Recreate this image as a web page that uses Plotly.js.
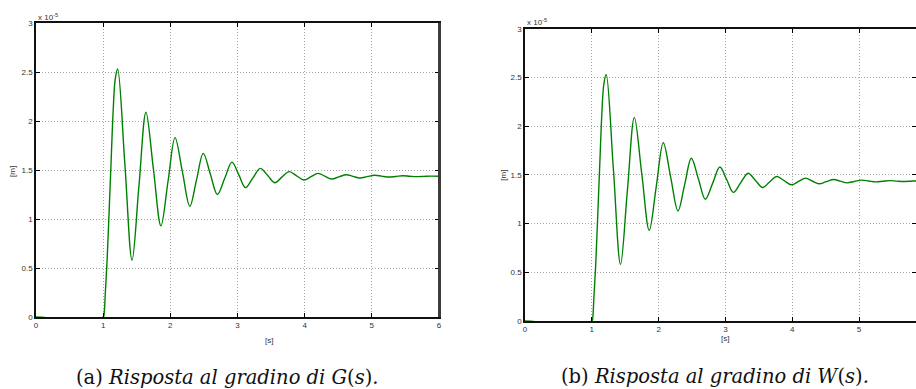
<!DOCTYPE html>
<html>
<head>
<meta charset="utf-8">
<script src="https://cdn.plot.ly/plotly-3.0.1.min.js"></script>
<style>
html,body{margin:0;padding:0;background:#fff;}
#chart{width:916px;height:389px;}
</style>
</head>
<body>
<div id="chart"></div>
<script>
// Step response of G(s) (values in units of 1e-5 m)
const timeG = [0, 1.0, 1.015, 1.03, 1.06, 1.09, 1.12, 1.15, 1.18, 1.216,
  1.323, 1.43, 1.533, 1.637, 1.748, 1.86, 1.965, 2.07, 2.18, 2.29, 2.39, 2.49,
  2.595, 2.70, 2.81, 2.917, 3.02, 3.12, 3.23, 3.34, 3.45, 3.557, 3.66, 3.77,
  3.88, 3.99, 4.095, 4.20, 4.30, 4.40, 4.51, 4.62, 4.72, 4.82, 4.93, 5.04,
  5.145, 5.25, 5.355, 5.46, 5.565, 5.67, 5.775, 5.88, 6.0];
const respG = [0, 0, 0.04, 0.22, 0.6, 1.1, 1.62, 2.12, 2.43, 2.53,
  1.56, 0.58, 1.34, 2.09, 1.51, 0.93, 1.38, 1.83, 1.48, 1.13, 1.40, 1.67,
  1.46, 1.25, 1.415, 1.58, 1.45, 1.32, 1.42, 1.517, 1.443, 1.37, 1.427, 1.483,
  1.44, 1.398, 1.432, 1.466, 1.437, 1.408, 1.43, 1.452, 1.435, 1.418, 1.432, 1.446,
  1.437, 1.428, 1.434, 1.441, 1.436, 1.432, 1.435, 1.438, 1.436];

// Step response of W(s)
const timeW = [0, 1.0, 1.015, 1.03, 1.06, 1.09, 1.12, 1.15, 1.18, 1.216,
  1.323, 1.43, 1.533, 1.637, 1.748, 1.86, 1.965, 2.07, 2.18, 2.29, 2.39, 2.49,
  2.595, 2.70, 2.81, 2.917, 3.02, 3.12, 3.23, 3.34, 3.45, 3.557, 3.66, 3.77,
  3.88, 3.99, 4.095, 4.20, 4.30, 4.40, 4.51, 4.62, 4.72, 4.82, 4.93, 5.04,
  5.145, 5.25, 5.355, 5.46, 5.565, 5.67, 5.775, 5.88, 6.0];
const respW = [0, 0, 0.04, 0.22, 0.6, 1.1, 1.62, 2.12, 2.43, 2.53,
  1.56, 0.58, 1.34, 2.09, 1.51, 0.93, 1.38, 1.83, 1.48, 1.13, 1.40, 1.67,
  1.46, 1.25, 1.415, 1.58, 1.45, 1.32, 1.42, 1.517, 1.443, 1.37, 1.427, 1.483,
  1.44, 1.398, 1.432, 1.466, 1.437, 1.408, 1.43, 1.452, 1.435, 1.418, 1.432, 1.446,
  1.437, 1.428, 1.434, 1.441, 1.436, 1.432, 1.435, 1.438, 1.436];

const xTicksG = [0, 1, 2, 3, 4, 5, 6];
const xTicksW = [0, 1, 2, 3, 4, 5];
const yTicks = [0, 0.5, 1, 1.5, 2, 2.5, 3];
const yTickText = ['0', '0.5', '1', '1.5', '2', '2.5', '3'];
const xLabel = '[s]';
const yLabel = '[m]';
const exponentText = 'x 10<sup>-5</sup>';
const captionG = '(a) <i>Risposta al gradino di G</i>(<i>s</i>)<i>.</i>';
const captionW = '(b) <i>Risposta al gradino di W</i>(<i>s</i>)<i>.</i>';

const W = 916, H = 389;
const px = v => v / W;
const py = v => 1 - v / H;

const lineStyle = {color: '#008000', width: 1.4, shape: 'spline', smoothing: 1};
const tickFont = {family: 'Liberation Sans, Arial, sans-serif', size: 8, color: '#333'};

function xAxis(domain, range, ticks, anchor) {
  return {domain: domain, range: range, anchor: anchor, tickvals: ticks,
    ticktext: ticks.map(String), ticks: 'inside', ticklen: 4, tickcolor: '#000',
    showline: true, linecolor: '#111', linewidth: 1.8, mirror: 'ticks',
    showgrid: true, gridcolor: '#a8a8a8', griddash: '1px,2px', gridwidth: 1,
    zeroline: false, tickfont: tickFont, fixedrange: true};
}
function yAxis(domain, anchor) {
  return {domain: domain, range: [0, 3], anchor: anchor, tickvals: yTicks,
    ticktext: yTickText, ticks: 'inside', ticklen: 4, tickcolor: '#000',
    showline: true, linecolor: '#111', linewidth: 1.8, mirror: 'ticks',
    showgrid: true, gridcolor: '#a8a8a8', griddash: '1px,2px', gridwidth: 1,
    zeroline: false, tickfont: tickFont, fixedrange: true};
}

const data = [
  {x: timeG, y: respG, type: 'scatter', mode: 'lines', line: lineStyle,
   xaxis: 'x', yaxis: 'y', hoverinfo: 'skip', showlegend: false},
  {x: timeW, y: respW, type: 'scatter', mode: 'lines', line: lineStyle,
   xaxis: 'x2', yaxis: 'y2', hoverinfo: 'skip', showlegend: false}
];

const annFont = {family: 'Liberation Sans, Arial, sans-serif', size: 8, color: '#333'};
const capFont = {family: 'DejaVu Serif, serif', size: 19.5, color: '#111'};

const layout = {
  width: W, height: H,
  margin: {l: 0, r: 0, t: 0, b: 0},
  paper_bgcolor: '#fff', plot_bgcolor: '#fff',
  showlegend: false,
  xaxis: xAxis([px(36), px(439)], [0, 6], xTicksG, 'y'),
  yaxis: yAxis([py(317), py(23)], 'x'),
  xaxis2: xAxis([px(525), 1], [0, (916 - 525) / 66.8], xTicksW, 'y2'),
  yaxis2: yAxis([py(321), py(28.7)], 'x2'),
  shapes: [
    {type: 'line', xref: 'paper', yref: 'paper', x0: px(439.5), x1: px(439.5), y0: py(317), y1: py(23),
     line: {color: '#3c3c3c', width: 3}, layer: 'above'}
  ],
  annotations: [
    {text: xLabel, x: px(269), y: py(340), xref: 'paper', yref: 'paper', showarrow: false, font: annFont, xanchor: 'center', yanchor: 'middle'},
    {text: xLabel, x: px(725), y: py(338), xref: 'paper', yref: 'paper', showarrow: false, font: annFont, xanchor: 'center', yanchor: 'middle'},
    {text: yLabel, x: px(13), y: py(172), xref: 'paper', yref: 'paper', showarrow: false, font: annFont, textangle: -90, xanchor: 'center', yanchor: 'middle'},
    {text: yLabel, x: px(502.7), y: py(175), xref: 'paper', yref: 'paper', showarrow: false, font: annFont, textangle: -90, xanchor: 'center', yanchor: 'middle'},
    {text: exponentText, x: px(35.5), y: py(16.5), xref: 'paper', yref: 'paper', showarrow: false, font: annFont, xanchor: 'left', yanchor: 'middle'},
    {text: exponentText, x: px(524.5), y: py(22.5), xref: 'paper', yref: 'paper', showarrow: false, font: annFont, xanchor: 'left', yanchor: 'middle'},
    {text: captionG, x: px(227), y: py(377), xref: 'paper', yref: 'paper', showarrow: false, font: capFont, xanchor: 'center', yanchor: 'middle'},
    {text: captionW, x: px(715), y: py(376), xref: 'paper', yref: 'paper', showarrow: false, font: capFont, xanchor: 'center', yanchor: 'middle'}
  ]
};

Plotly.newPlot('chart', data, layout, {staticPlot: true, displayModeBar: false});
</script>
</body>
</html>
